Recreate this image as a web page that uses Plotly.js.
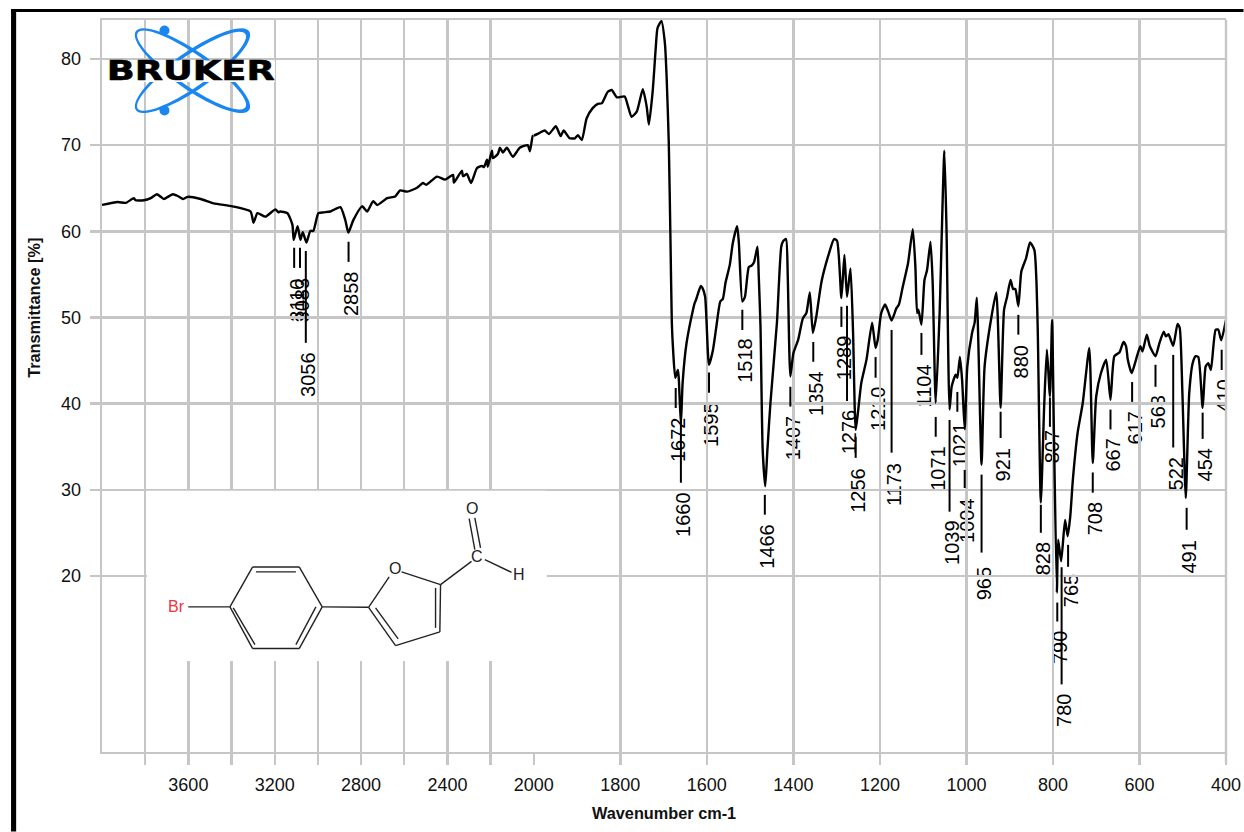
<!DOCTYPE html>
<html>
<head>
<meta charset="utf-8">
<script src="https://cdn.plot.ly/plotly-3.0.1.min.js"></script>
<style>html,body{margin:0;padding:0;background:#fff}#chart{width:1244px;height:832px}</style>
</head>
<body>
<div id="chart"></div>
<script>
// Spectrum above 2000 cm-1 (compressed half of the Bruker axis)
const waveHigh = [4000,3927,3890,3852,3845,3806,3774,3746,3728,3714,3672,3649,3626,3603,3543,3483,3395,3312,3298,3280,3243,3197,3183,3175,3141,3118,3112,3094,3081,3070,3053,3035,3021,2998,2975,2942,2896,2873,2859,2836,2795,2772,2744,2725,2679,2642,2619,2587,2541,2513,2499,2448,2411,2374,2370,2333,2328,2310,2291,2263,2240,2231,2217,2213,2194,2189,2166,2157,2143,2125,2097,2065,2028,2018,2005,2000];
const transHigh = [63.06,63.4,63.3,63.85,63.6,63.6,63.85,64.3,64.0,63.75,64.3,64.1,63.75,64.0,63.75,63.25,62.9,62.3,61.0,62.1,61.7,62.55,62.2,62.3,62.1,60.75,59.0,60.6,59.0,59.9,58.7,60.05,60.05,62.1,62.2,62.3,62.8,61.3,59.85,61.3,62.9,62.3,63.5,63.05,63.85,64.05,64.75,64.6,65.05,65.6,65.4,66.35,66.0,66.55,65.65,67.05,66.4,66.65,65.6,67.35,67.6,67.45,68.3,67.5,69.35,68.5,69.0,69.7,69.15,69.7,68.65,69.7,70.0,69.3,71.05,71.1];
// Spectrum below 2000 cm-1
const waveLow = [2000,1991,1975,1965,1949,1938,1931,1917,1905,1898,1889,1878,1864,1852,1843,1829,1820,1808,1790,1783,1774,1762,1748,1739,1734,1725,1718,1714,1705,1697,1693,1688,1684,1681,1678,1673,1667,1665,1660,1656,1647,1632,1628,1625,1614,1610,1604,1595,1586,1578,1569,1563,1557,1547,1540,1530,1526,1518,1512,1503,1497,1491,1483,1480,1476,1471,1465,1460,1453,1438,1428,1423,1417,1413,1407,1400,1389,1378,1370,1362,1355,1347,1335,1320,1306,1299,1289,1282,1276,1268,1262,1256,1250,1243,1231,1218,1210,1205,1197,1188,1181,1173,1162,1156,1147,1135,1124,1118,1114,1111,1104,1097,1091,1083,1078,1071,1062,1051,1046,1039,1034,1025,1021,1015,1010,1004,998,987,981,976,965,958,942,931,921,913,906,898,892,887,880,873,862,853,843,838,835,828,820,814,807,802,798,791,788,781,772,766,760,754,743,731,716,708,700,689,677,667,658,646,637,631,627,618,608,598,593,583,576,563,554,544,539,533,522,512,507,501,493,485,477,470,464,454,447,441,435,424,418,411,400];
const transLow = [71.1,71.3,71.7,71.3,72.2,71.05,71.7,70.8,70.8,71.15,70.6,73.1,74.3,74.8,74.85,76.2,76.4,75.55,75.65,74.65,73.3,73.9,76.5,74.45,72.4,76.4,81.4,83.6,84.4,81.85,77.95,70.25,58.65,49.4,46.2,43.0,43.9,43.0,37.6,42.4,47.0,50.9,51.7,52.05,53.65,53.4,52.4,44.5,46.2,48.95,51.85,52.15,54.0,56.1,58.65,60.6,58.65,51.85,52.4,55.85,56.0,56.4,58.2,54.75,48.95,34.65,30.4,34.65,40.1,49.4,58.2,58.9,59.1,54.75,43.15,45.85,47.4,49.9,50.5,52.9,48.2,50.1,54.15,57.05,59.1,58.9,52.25,57.25,52.4,55.7,48.2,36.95,39.3,42.4,45.1,49.4,46.45,47.4,50.5,51.5,50.7,49.65,51.05,51.5,53.6,56.3,60.25,55.9,50.5,50.9,49.15,54.35,55.5,58.8,54.0,40.1,50.5,69.35,60.15,39.3,42.0,43.35,43.0,45.4,42.75,37.0,44.3,48.2,49.4,52.3,32.9,44.3,50.1,52.9,39.5,50.9,52.4,54.35,53.3,53.3,51.3,55.35,56.9,58.7,57.85,54.0,48.2,28.5,40.1,46.25,40.85,49.7,37.35,18.05,24.2,21.7,26.5,24.6,26.9,31.15,36.6,40.1,46.45,33.1,40.85,43.55,45.1,40.45,45.5,45.95,47.15,46.65,45.1,43.55,45.1,46.65,46.05,48.0,46.65,45.5,47.0,48.35,47.8,48.05,46.7,49.25,48.8,41.6,29.05,41.2,44.7,45.5,45.4,39.5,44.3,44.7,43.9,48.55,48.6,47.35,49.7];

// Peak picks: wavenumber, label, tick top, tick bottom, label centre (in % T)
const peakHighWave = [3110,3083,3056,2858];
const peakHighText = ['3110','3083','3056','2858'];
const peakHighTop = [58.1,58.1,57.7,58.8];
const peakHighBot = [55.75,55.75,47.05,56.45];
const peakHighLab = [52.0,52.0,43.35,52.75];

const peakLowWave = [1672,1660,1595,1518,1466,1407,1354,1289,1276,1256,1210,1173,1104,1071,1039,1021,1004,965,921,880,828,807,790,780,765,708,667,617,563,522,491,454,410];
const peakLowText = peakLowWave.map(String);
const peakLowTop = [41.8,39.3,43.6,50.9,29.4,41.95,47.15,51.25,51.35,36.15,45.4,48.55,48.2,38.45,38.1,41.35,32.3,31.75,39.05,50.3,28.25,40.7,16.9,21.0,23.6,32.0,39.3,42.5,44.5,45.65,27.9,38.95,46.25];
const peakLowBot = [39.5,30.8,41.25,48.55,27.1,39.65,44.85,48.9,40.3,33.7,43.0,34.3,45.65,36.15,27.45,39.05,30.2,22.7,36.0,48.0,25.0,37.3,14.7,7.4,21.05,29.65,37.0,40.2,41.95,34.9,25.35,35.9,43.9];
const peakLowLab = [35.8,27.1,37.55,45.0,23.4,36.0,41.15,45.3,36.7,29.9,39.4,30.6,42.05,32.45,23.85,35.2,26.4,19.1,32.9,44.85,22.0,35.0,11.7,4.4,18.3,26.65,34.05,37.2,39.05,31.85,22.2,32.9,40.9];

const tickHighVals = [3800,3600,3400,3200,3000,2800,2600,2400,2200,2000];
const tickHighText = ['','3600','','3200','','2800','','2400','','2000'];
const tickLowVals = [1800,1600,1400,1200,1000,800,600,400];
const tickLowText = ['1800','1600','1400','1200','1000','800','600','400'];
const tickYVals = [20,30,40,50,60,70,80];

const GRID = '#c6c6c6', FONT = '"Liberation Sans", Arial, sans-serif';
const PL = 102, PR = 1226.5, PT = 20, PB = 752.5;
const X = p => (p - PL) / (PR - PL);
const Y = p => (PB - p) / (PB - PT);
const SPLIT = X(534);

function tickLines(w, a, b) {
  const xs = [], ys = [];
  w.forEach((v, i) => { xs.push(v, v, null); ys.push(a[i], b[i], null); });
  return {xs, ys};
}
const th = tickLines(peakHighWave, peakHighTop, peakHighBot);
const tl = tickLines(peakLowWave, peakLowTop, peakLowBot);
const specLine = {color: '#000', width: 2.4, shape: 'spline', smoothing: 0.55};

const traces = [
  {x: waveHigh, y: transHigh, xaxis: 'x', yaxis: 'y', mode: 'lines', line: specLine, cliponaxis: false, hoverinfo: 'x+y'},
  {x: waveLow, y: transLow, xaxis: 'x2', yaxis: 'y', mode: 'lines', line: specLine, cliponaxis: false, hoverinfo: 'x+y'},
  {x: th.xs, y: th.ys, xaxis: 'x', yaxis: 'y', mode: 'lines', line: {color: '#000', width: 2}, hoverinfo: 'skip'},
  {x: tl.xs, y: tl.ys, xaxis: 'x2', yaxis: 'y', mode: 'lines', line: {color: '#000', width: 2}, hoverinfo: 'skip'}
];

const shapes = [];
// Peak labels sit under the gridlines, as in the reference
function addLabels(w, txt, lab, xref, shift) {
  w.forEach((v, i) => shapes.push({
    type: 'rect', layer: 'below', xref, yref: 'y',
    x0: v - shift, x1: v - shift, y0: lab[i] - 2.7, y1: lab[i] + 2.7,
    line: {width: 0}, fillcolor: 'rgba(0,0,0,0)',
    label: {text: txt[i], textangle: -90, textposition: 'middle center', font: {family: FONT, size: 20, color: '#000'}}
  }));
}
addLabels(peakHighWave, peakHighText, peakHighLab, 'x', 2);
addLabels(peakLowWave, peakLowText, peakLowLab, 'x2', 1);

function rectP(x0, y0, x1, y1, fill) {
  shapes.push({type: 'rect', layer: 'above', xref: 'paper', yref: 'paper',
    x0: X(x0), x1: X(x1), y0: Y(y0), y1: Y(y1), line: {width: 0}, fillcolor: fill});
}
function lineP(x0, y0, x1, y1, color, width) {
  shapes.push({type: 'line', layer: 'above', xref: 'paper', yref: 'paper',
    x0: X(x0), x1: X(x1), y0: Y(y0), y1: Y(y1), line: {color, width}});
}
function ellipsePts(cx, cy, a, b, deg) {
  const t = deg * Math.PI / 180, out = [];
  for (let i = 0; i < 72; i++) {
    const u = i * 5 * Math.PI / 180, ex = a * Math.cos(u), ey = b * Math.sin(u);
    const px = cx + ex * Math.cos(t) - ey * Math.sin(t), py = cy + ex * Math.sin(t) + ey * Math.cos(t);
    out.push((i ? 'L' : 'M') + X(px).toFixed(5) + ',' + Y(py).toFixed(5));
  }
  return out.join(' ') + ' Z';
}
function logoRing(deg, thinDir) {
  const cx = 192.5, cy = 70.7, rad = deg * Math.PI / 180;
  const shift = 1.1 * thinDir;
  const path = ellipsePts(cx, cy, 69, 19, deg) + ' ' +
    ellipsePts(cx + shift * Math.cos(rad), cy + shift * Math.sin(rad), 65.5, 15.6, deg);
  shapes.push({type: 'path', layer: 'above', xref: 'paper', yref: 'paper', path,
    fillrule: 'evenodd', fillcolor: '#1a86f0', line: {width: 0}});
}
logoRing(34.8, -1);
logoRing(-34.8, -1);
shapes.push({type: 'circle', layer: 'above', xref: 'paper', yref: 'paper',
  x0: X(159.5), x1: X(169.5), y0: Y(25.5), y1: Y(35.5), fillcolor: '#1a86f0', line: {width: 0}});
shapes.push({type: 'circle', layer: 'above', xref: 'paper', yref: 'paper',
  x0: X(159.5), x1: X(169.5), y0: Y(105.5), y1: Y(115.5), fillcolor: '#1a86f0', line: {width: 0}});
rectP(107, 60.5, 275, 82, '#fff');

// Structure inset
rectP(147, 491, 547, 661.5, '#fff');
const INK = '#222';
[[230,607.3,252.7,567.3],[252.7,567.3,299.3,567.3],[299.3,567.3,322.3,607.3],[322.3,607.3,299.3,649],[299.3,649,252.7,649],[252.7,649,230,607.3],
 [256,572.3,296,572.3],[233.3,608.3,255,645],[316,607.3,296,645],[188.3,607.3,230,607.3],[322.3,607.3,368.7,607.7],
 [368.7,607.7,389.3,577.3],[368.7,607.7,395.7,646],[395.7,646,440,632.3],[440,632.3,440.7,585],[401.7,572.3,440.7,585],
 [375.7,608.3,398.3,639.3],[435.7,588.3,435.7,628.3],[440.7,585,471.7,561.7],[469.3,519,475,550],[475,518.3,480.7,548.3],[485,560,511.7,572.7]
].forEach(s => lineP(s[0], s[1], s[2], s[3], INK, 1.4));

// Frame
lineP(PR, PT, PR, 763, GRID, 2.4);
rectP(11, 9, 16, 832, '#000');
rectP(11, 9, 1244, 12, '#000');
rectP(16, 12, 17, 832, '#d8d8d8');

function noteP(px, py, text, size, color, extra) {
  return Object.assign({xref: 'paper', yref: 'paper', x: X(px), y: Y(py), text, showarrow: false,
    xanchor: 'center', yanchor: 'middle', font: {family: FONT, size, color}}, extra || {});
}
const annotations = [
  noteP(176.7, 607, 'Br', 16, '#f0323c'),
  noteP(395, 569.3, 'O', 16, INK),
  noteP(477.3, 556.7, 'C', 16, INK),
  noteP(519, 575, 'H', 16, INK),
  noteP(472, 509.3, 'O', 16, INK),
  noteP(664.5, 814, '<b>Wavenumber cm-1</b>', 16.3, '#111'),
  noteP(34, 308, '<b>Transmittance [%]</b>', 16.3, '#111', {textangle: -90}),
  noteP(191, 70.5, 'BRUKER', 27, '#000', {font: {family: '"DejaVu Sans", sans-serif', size: 27, color: '#000', weight: 900}})
];

const xCommon = {
  tickmode: 'array', ticks: 'outside', ticklen: 11, tickcolor: GRID, tickwidth: 2.4,
  showgrid: true, gridcolor: GRID, gridwidth: 2.4, zeroline: false,
  showline: true, linecolor: GRID, linewidth: 2.4, mirror: true,
  tickfont: {family: FONT, size: 18, color: '#111'}, anchor: 'y', ticklabelstandoff: 4
};
const layout = {
  width: 1244, height: 832, autosize: false, showlegend: false,
  paper_bgcolor: '#fff', plot_bgcolor: '#fff',
  margin: {l: PL, r: 1244 - PR, t: PT, b: 832 - PB, pad: 0},
  xaxis: Object.assign({}, xCommon, {domain: [0, SPLIT], range: [4000, 2000], tickvals: tickHighVals, ticktext: tickHighText}),
  xaxis2: Object.assign({}, xCommon, {domain: [SPLIT, 1], range: [2000, 400], tickvals: tickLowVals, ticktext: tickLowText}),
  yaxis: {
    range: [-0.45, 84.53], tickmode: 'array', tickvals: tickYVals, ticks: 'outside', ticklen: 10,
    tickcolor: GRID, tickwidth: 2.4, showgrid: true, gridcolor: GRID, gridwidth: 2.4, zeroline: false,
    showline: true, linecolor: GRID, linewidth: 2.4, anchor: 'x',
    tickfont: {family: FONT, size: 18, color: '#111'}, ticklabelstandoff: 5
  },
  shapes, annotations
};

Plotly.newPlot('chart', traces, layout, {displayModeBar: false, staticPlot: true}).then(gd => {
  gd.querySelectorAll('.annotation-text').forEach(t => {
    if (t.textContent === 'BRUKER') {
      t.setAttribute('textLength', '168');
      t.setAttribute('lengthAdjust', 'spacingAndGlyphs');
      t.style.stroke = '#000';
      t.style.strokeWidth = '0.6px';
    }
  });
});
</script>
</body>
</html>
